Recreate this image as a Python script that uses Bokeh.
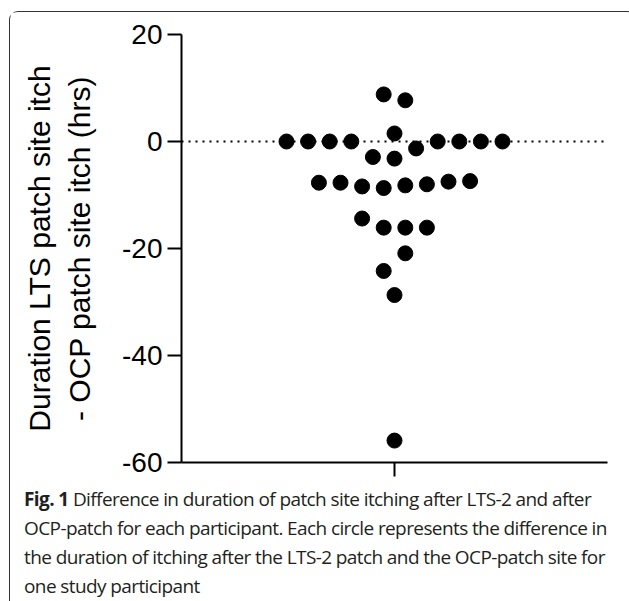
from bokeh.plotting import figure
from bokeh.models import Range1d, FixedTicker, Span, Div, ColumnDataSource
from bokeh.layouts import column
from bokeh.embed import file_html
from bokeh.resources import INLINE

# ---- data ----
diff_hrs = [8.8, 7.7, 1.5,
            0, 0, 0, 0, 0, 0, 0, 0,
            -1.3, -2.9, -3.2,
            -7.7, -7.7, -8.4, -8.7, -8.2, -8.0, -7.5, -7.4,
            -14.4, -16.1, -16.1, -16.1, -20.9, -24.2, -28.7, -55.9]
# horizontal slot of each point in the scatter-dot column (in dot-widths)
swarm_slot = [-0.5, 0.5, 0,
              -5, -4, -3, -2, 2, 3, 4, 5,
              1, -1, 0,
              -3.5, -2.5, -1.5, -0.5, 0.5, 1.5, 2.5, 3.5,
              -1.5, -0.5, 0.5, 1.5, 0.5, -0.5, 0, 0]
y_ticks = [20, 0, -20, -40, -60]
y_tick_labels = ["20", "0", "-20", "-40", "-60"]
y_label = "Duration LTS patch site itch\n- OCP patch site itch (hrs)"
caption_bold = "Fig. 1"
caption_lines = [
    " Difference in duration of patch site itching after LTS-2 and after",
    "OCP-patch for each participant. Each circle represents the difference in",
    "the duration of itching after the LTS-2 patch and the OCP-patch site for",
    "one study participant",
]

SLOT = 0.1014  # width of one dot slot in x data units
src = ColumnDataSource(dict(x=[s * SLOT for s in swarm_slot], y=diff_hrs))

p = figure(width=615, height=468, output_backend="svg", toolbar_location=None,
           x_range=Range1d(-1, 1), y_range=Range1d(-60, 20),
           min_border_left=171, min_border_right=18, min_border_top=22,
           min_border_bottom=18, title=None)
p.outline_line_color = None
p.grid.visible = False
p.background_fill_color = "white"
p.border_fill_color = "white"

p.add_layout(Span(location=0, dimension="width", line_color="black",
                  line_width=2.2, line_dash="2 5"))
p.scatter("x", "y", source=src, size=15, color="black")

ya = p.yaxis[0]
ya.ticker = FixedTicker(ticks=y_ticks)
ya.major_label_overrides = {t: s for t, s in zip(y_ticks, y_tick_labels)}
ya.axis_line_width = 2
ya.major_tick_line_width = 2
ya.major_tick_out = 14
ya.major_tick_in = 0
ya.minor_tick_out = 0
ya.minor_tick_in = 0
ya.major_label_standoff = 5
ya.major_label_text_font = "Liberation Sans"
ya.major_label_text_font_size = "28px"
ya.major_label_text_color = "black"
ya.axis_label = y_label
ya.axis_label_text_font = "Liberation Sans"
ya.axis_label_text_font_size = "30px"
ya.axis_label_text_font_style = "normal"
ya.axis_label_text_color = "black"
ya.axis_label_standoff = 23

xa = p.xaxis[0]
xa.ticker = FixedTicker(ticks=[0])
xa.axis_line_width = 2
xa.major_tick_line_width = 2
xa.major_tick_out = 14
xa.major_tick_in = 0
xa.minor_tick_out = 0
xa.minor_tick_in = 0
xa.major_label_overrides = {0: ""}
xa.major_label_standoff = 0

cap_html = ('<b style="font-weight:700">' + caption_bold + '</b>' + caption_lines[0]
            + '<br>' + '<br>'.join(caption_lines[1:]))
cap = Div(text=cap_html, width=615, height=120,
          styles={"font-family": "'Open Sans'", "font-size": "19px",
                  "line-height": "29px", "letter-spacing": "-0.6px",
                  "color": "#231f20", "white-space": "nowrap",
                  "padding-left": "9px", "padding-top": "0px"})

root = column(p, cap, margin=(11, 2, 0, 9), spacing=0,
              styles={"border": "1.6px solid #333", "border-bottom": "none",
                      "border-radius": "9px 9px 0 0", "background": "white"})

open("out.html", "w").write(file_html(root, INLINE))
